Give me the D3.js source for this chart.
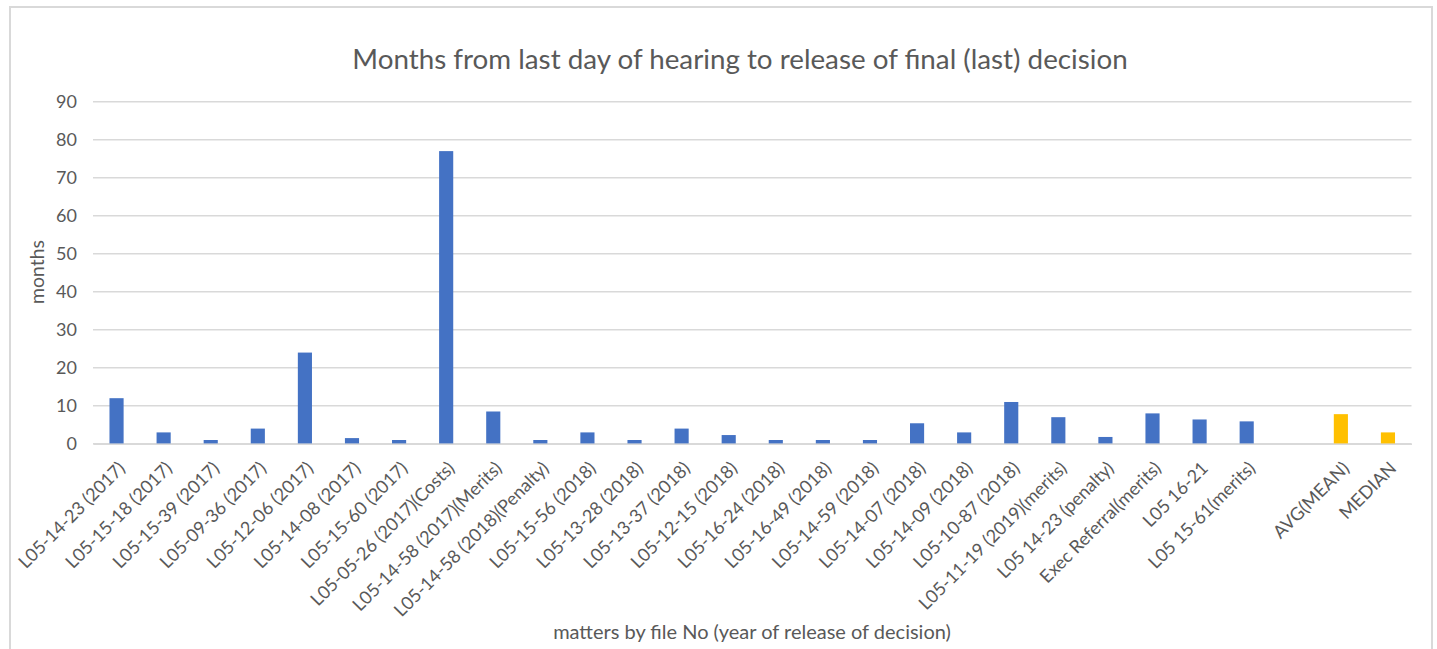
<!DOCTYPE html>
<html>
<head>
<meta charset="utf-8">
<script src="https://cdn.jsdelivr.net/npm/d3@7"></script>
<style>
  html, body { margin: 0; padding: 0; background: #fff; }
  svg { display: block; }
  text { font-family: Lato, "Open Sans", sans-serif; fill: #595959; }
</style>
</head>
<body>
<svg id="chart" width="1437" height="649"></svg>
<script>
// ---- data ----
const categories = [
  "L05-14-23 (2017)", "L05-15-18 (2017)", "L05-15-39 (2017)", "L05-09-36 (2017)",
  "L05-12-06 (2017)", "L05-14-08 (2017)", "L05-15-60 (2017)", "L05-05-26 (2017)(Costs)",
  "L05-14-58 (2017)(Merits)", "L05-14-58 (2018)(Penalty)", "L05-15-56 (2018)", "L05-13-28 (2018)",
  "L05-13-37 (2018)", "L05-12-15 (2018)", "L05-16-24 (2018)", "L05-16-49 (2018)",
  "L05-14-59 (2018)", "L05-14-07 (2018)", "L05-14-09 (2018)", "L05-10-87 (2018)",
  "L05-11-19 (2019)(merits)", "L05 14-23 (penalty)", "Exec Referral(merits)", "L05 16-21",
  "L05 15-61(merits)"
];
const values = [12, 3, 1, 4, 24, 1.5, 1, 77, 8.5, 1, 3, 1, 4, 2.3, 1, 1, 1, 5.4, 3, 11, 7, 1.8, 8, 6.4, 5.9];
const summaryCategories = ["", "AVG(MEAN)", "MEDIAN"];
const summaryValues = [null, 7.8, 3];
const yTicks = [0, 10, 20, 30, 40, 50, 60, 70, 80, 90];

const title = "Months from last day of hearing to release of final (last) decision";
const yTitle = "months";
const xTitle = "matters by file No (year of release of decision)";

// ---- build rows ----
const rows = categories.map((c, i) => ({ key: "m" + i, label: c, value: values[i], summary: false }))
  .concat(summaryCategories.map((c, i) => ({ key: "s" + i, label: c, value: summaryValues[i], summary: true })));

const svg = d3.select("#chart");
const plot = { left: 93, right: 1411.5, top: 101.7, bottom: 443.8 };

// fit a text element's font size so its length matches a target width
function fitText(sel, targetWidth, baseSize) {
  sel.style("font-size", baseSize + "px");
  const w = sel.node().getComputedTextLength();
  const size = baseSize * targetWidth / w;
  sel.style("font-size", size + "px");
  return size;
}

// chart border
svg.append("rect")
  .attr("x", 10).attr("y", 7).attr("width", 1422).attr("height", 660)
  .attr("fill", "#fff").attr("stroke", "#D9D9D9").attr("stroke-width", 2);

const x = d3.scaleBand()
  .domain(rows.map(d => d.key))
  .range([plot.left, plot.right])
  .paddingInner(0.7).paddingOuter(0.35);

const y = d3.scaleLinear().domain([0, 90]).range([plot.bottom, plot.top]);

// gridlines
svg.append("g").selectAll("line").data(yTicks).join("line")
  .attr("x1", plot.left).attr("x2", plot.right)
  .attr("y1", d => y(d)).attr("y2", d => y(d))
  .attr("stroke", "#D9D9D9").attr("stroke-width", 1.5);

// y axis labels
const yAxis = svg.append("g")
  .attr("transform", `translate(${plot.left},0)`)
  .call(d3.axisLeft(y).tickValues(yTicks).tickSize(0).tickPadding(16));
yAxis.select(".domain").remove();
yAxis.selectAll("text")
  .style("font-family", "Lato, 'Open Sans', sans-serif")
  .style("font-size", "18px").style("fill", "#595959");

// bars
svg.append("g").selectAll("rect").data(rows.filter(d => d.value != null)).join("rect")
  .attr("x", d => x(d.key))
  .attr("width", x.bandwidth())
  .attr("y", d => y(d.value))
  .attr("height", d => y(0) - y(d.value))
  .attr("fill", d => d.summary ? "#FFC000" : "#4472C4");

// x axis
const xAxis = svg.append("g")
  .attr("transform", `translate(0,${plot.bottom})`)
  .call(d3.axisBottom(x).tickSize(0).tickFormat(k => rows.find(r => r.key === k).label));
xAxis.select(".domain").attr("stroke", "#D9D9D9").attr("stroke-width", 1.5);
const xTexts = xAxis.selectAll("text")
  .style("font-family", "Lato, 'Open Sans', sans-serif")
  .style("font-size", "16px").style("fill", "#595959")
  .attr("text-anchor", "end")
  .attr("dy", "0.35em")
  .attr("transform", "translate(3,19) rotate(-45)");
// scale tick font so the longest label matches the reference length
const longest = xTexts.filter(function() { return this.textContent === "L05-14-58 (2018)(Penalty)"; });
const tickSize = 16 * 210 / longest.node().getComputedTextLength();
xTexts.style("font-size", tickSize + "px");

// titles
const t = svg.append("text").attr("x", 740).attr("y", 69)
  .attr("text-anchor", "middle").text(title);
fitText(t, 776, 24);

const yt = svg.append("text")
  .attr("transform", `translate(44,272) rotate(-90)`)
  .attr("text-anchor", "middle").text(yTitle);
fitText(yt, 64, 16);

const xt = svg.append("text").attr("x", 752).attr("y", 639)
  .attr("text-anchor", "middle").text(xTitle);
fitText(xt, 398, 16);
</script>
</body>
</html>
